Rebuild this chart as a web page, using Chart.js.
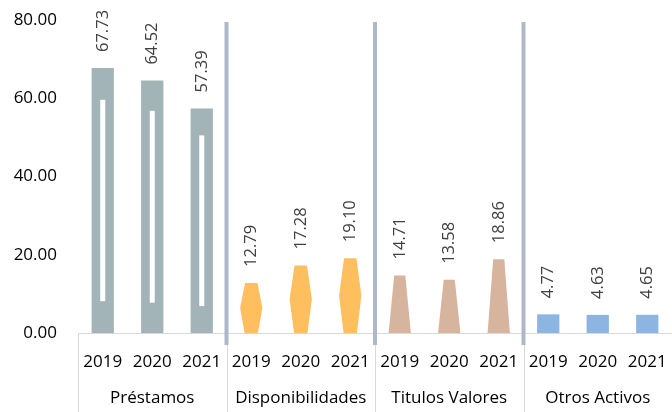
<!DOCTYPE html>
<html>
<head>
<meta charset="utf-8">
<script src="https://cdn.jsdelivr.net/npm/chart.js@4/dist/chart.umd.min.js"></script>
<style>
html,body{margin:0;padding:0;background:#fff;}
#wrap{width:672px;height:412px;position:relative;}
</style>
</head>
<body>
<div id="wrap"><canvas id="c" width="672" height="412"></canvas></div>
<script>
const groups = ["Préstamos", "Disponibilidades", "Titulos Valores", "Otros Activos"];
const years = ["2019", "2020", "2021"];
const prestamos = [67.73, 64.52, 57.39];
const disponibilidades = [12.79, 17.28, 19.10];
const titulos = [14.71, 13.58, 18.86];
const otros = [4.77, 4.63, 4.65];
const yTicks = [0, 20, 40, 60, 80];

const groupColors = ["#A2B4B7", "#FFBF5F", "#D7B49D", "#8DB5E2"];
const seriesByGroup = [prestamos, disponibilidades, titulos, otros];

const labels = [];
const values = [];
const groupIndex = [];
seriesByGroup.forEach((arr, g) => {
  arr.forEach((v, i) => { labels.push(years[i]); values.push(v); groupIndex.push(g); });
});

const FONT = "'Open Sans', 'Noto Sans', sans-serif";
const TXT = "#404040";

const shapesPlugin = {
  id: 'shapes',
  afterDatasetsDraw(chart) {
    const ctx = chart.ctx;
    const meta = chart.getDatasetMeta(0);
    ctx.save();
    meta.data.forEach((el, i) => {
      const g = groupIndex[i];
      const p = el.getProps(['x', 'y', 'base', 'width'], true);
      const x = p.x, top = p.y, base = p.base, w = p.width, h = base - top;
      ctx.fillStyle = groupColors[g];
      ctx.beginPath();
      if (g === 1) {
        const mid = top + h * 0.5;
        ctx.moveTo(x - w * 0.28, top);
        ctx.lineTo(x + w * 0.28, top);
        ctx.lineTo(x + w * 0.5, mid);
        ctx.lineTo(x + w * 0.3, base);
        ctx.lineTo(x - w * 0.3, base);
        ctx.lineTo(x - w * 0.5, mid);
        ctx.closePath();
        ctx.fill();
      } else if (g === 2) {
        ctx.moveTo(x - w * 0.25, top);
        ctx.lineTo(x + w * 0.25, top);
        ctx.lineTo(x + w * 0.5, base);
        ctx.lineTo(x - w * 0.5, base);
        ctx.closePath();
        ctx.fill();
      } else {
        ctx.rect(x - w / 2, top, w, h);
        ctx.fill();
        if (g === 0) {
          ctx.fillStyle = "#FFFFFF";
          ctx.fillRect(x - 2.5, top + h * 0.12, 5, h * 0.76);
        }
      }
      // value label, rotated
      ctx.save();
      ctx.translate(x + 0.5, top - 16);
      ctx.rotate(-Math.PI / 2);
      ctx.fillStyle = TXT;
      ctx.font = "16.5px " + FONT;
      ctx.textAlign = 'left';
      ctx.textBaseline = 'middle';
      ctx.fillText(values[i].toFixed(2), 0, 0);
      ctx.restore();
    });
    // separators
    const xs = chart.scales.x;
    const area = chart.chartArea;
    for (let g = 1; g < groups.length; g++) {
      const a = xs.getPixelForValue(g * 3 - 1), b = xs.getPixelForValue(g * 3);
      const sx = (a + b) / 2;
      ctx.fillStyle = "#AFB7CA";
      ctx.fillRect(sx - 2, area.top + 2, 4, area.bottom - area.top + 10);
    }
    ctx.restore();
  },
  beforeDatasetsDraw(chart) {
    const ctx = chart.ctx;
    const xs = chart.scales.x;
    const x2 = chart.scales.x2;
    const area = chart.chartArea;
    ctx.save();
    ctx.strokeStyle = "#D9D9D9";
    ctx.lineWidth = 1;
    ctx.beginPath();
    ctx.moveTo(area.left, area.bottom + 0.5);
    ctx.lineTo(area.right, area.bottom + 0.5);
    for (let g = 0; g <= groups.length; g++) {
      let sx;
      if (g === 0) sx = area.left;
      else if (g === groups.length) sx = area.right;
      else sx = (xs.getPixelForValue(g * 3 - 1) + xs.getPixelForValue(g * 3)) / 2;
      sx = Math.round(sx) + 0.5;
      ctx.moveTo(sx, area.bottom);
      ctx.lineTo(sx, x2.bottom);
    }
    ctx.stroke();
    ctx.restore();
  }
};

function noSidePad(scale) { scale.paddingLeft = 0; scale.paddingRight = 0; }

new Chart(document.getElementById('c'), {
  type: 'bar',
  data: {
    labels: labels,
    datasets: [{
      data: values,
      backgroundColor: 'rgba(0,0,0,0)',
      borderWidth: 0,
      barPercentage: 0.45,
      categoryPercentage: 1.0,
      xAxisID: 'x',
      yAxisID: 'y'
    }]
  },
  options: {
    responsive: false,
    animation: false,
    events: [],
    layout: { padding: { top: 20, right: 0, left: 0, bottom: 0 } },
    plugins: { legend: { display: false }, tooltip: { enabled: false } },
    scales: {
      y: {
        min: 0, max: 80,
        afterBuildTicks(scale) { scale.ticks = yTicks.map(v => ({ value: v })); },
        afterFit(scale) { scale.width = 78; scale.paddingTop = 0; scale.paddingBottom = 0; },
        grid: { display: false, drawTicks: false },
        border: { display: false },
        ticks: {
          padding: 21,
          color: '#000',
          font: { family: FONT, size: 17 },
          callback: v => Number(v).toFixed(2)
        }
      },
      x: {
        type: 'category',
        position: 'bottom',
        weight: 0,
        offset: true,
        grid: { display: false, drawTicks: false },
        border: { display: false },
        afterFit(scale) { scale.height = 45; noSidePad(scale); },
        ticks: {
          padding: 19,
          maxRotation: 0, autoSkip: false,
          color: '#000',
          font: { family: FONT, size: 17 }
        }
      },
      x2: {
        type: 'category',
        position: 'bottom',
        weight: 1,
        labels: groups,
        offset: true,
        grid: { display: false, drawTicks: false },
        border: { display: false },
        afterFit(scale) { scale.height = 34; noSidePad(scale); },
        ticks: {
          padding: 10,
          maxRotation: 0, autoSkip: false,
          color: '#000',
          font: { family: FONT, size: 17 }
        }
      }
    }
  },
  plugins: [shapesPlugin]
});
</script>
</body>
</html>
